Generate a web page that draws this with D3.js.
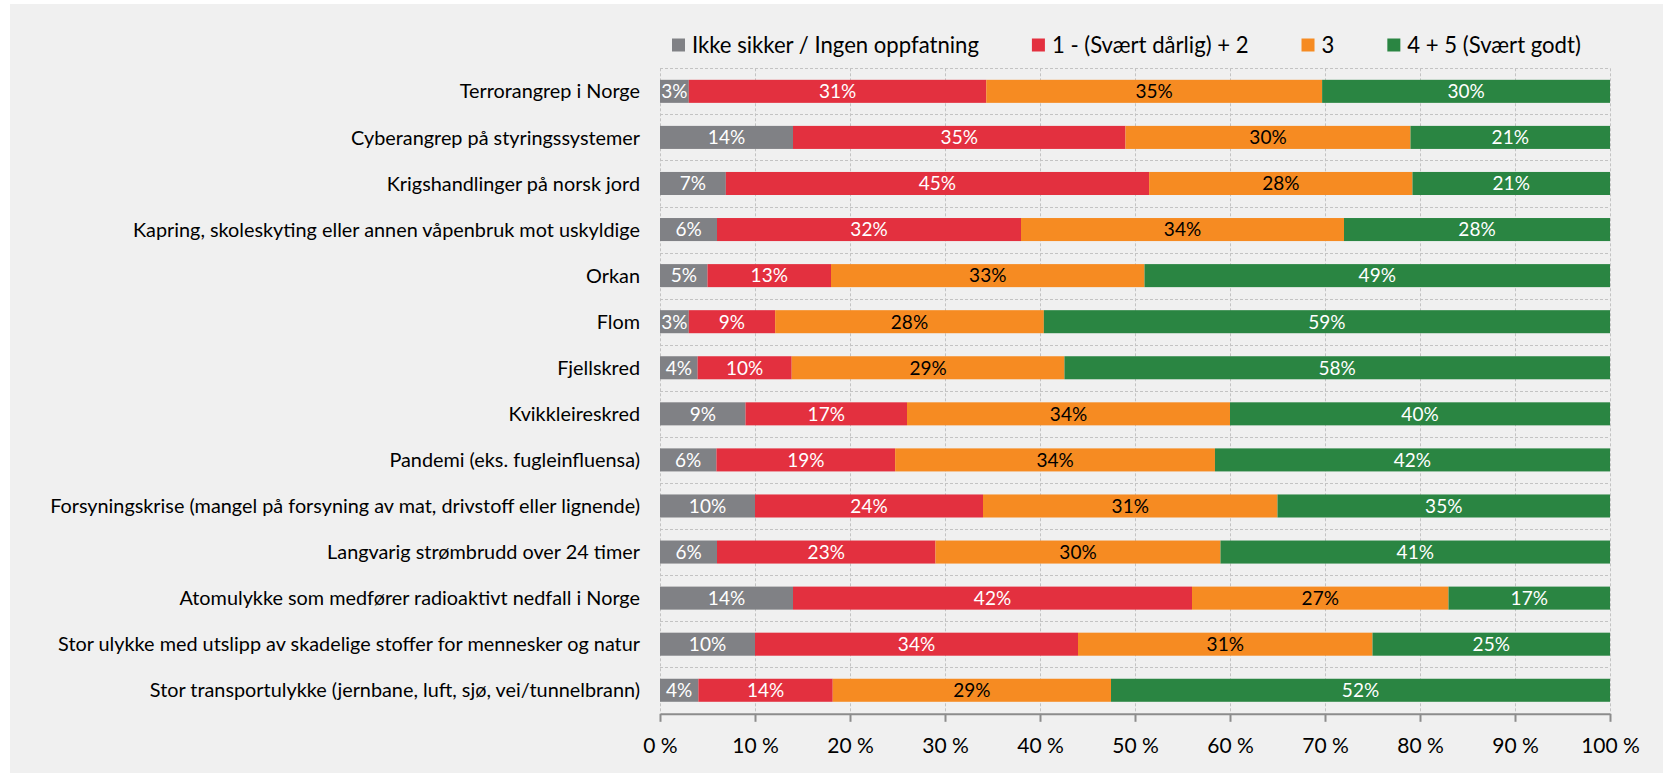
<!DOCTYPE html>
<html>
<head>
<meta charset="utf-8">
<script src="https://cdn.jsdelivr.net/npm/d3@7"></script>
<style>
  html, body { margin: 0; padding: 0; background: #ffffff; }
  svg { display: block; }
  text { font-family: Lato, "Open Sans", sans-serif; }
</style>
</head>
<body>
<svg id="chart" width="1663" height="773"></svg>
<script>
const categories = [
  "Terrorangrep i Norge",
  "Cyberangrep på styringssystemer",
  "Krigshandlinger på norsk jord",
  "Kapring, skoleskyting eller annen våpenbruk mot uskyldige",
  "Orkan",
  "Flom",
  "Fjellskred",
  "Kvikkleireskred",
  "Pandemi (eks. fugleinfluensa)",
  "Forsyningskrise (mangel på forsyning av mat, drivstoff eller lignende)",
  "Langvarig strømbrudd over 24 timer",
  "Atomulykke som medfører radioaktivt nedfall i Norge",
  "Stor ulykke med utslipp av skadelige stoffer for mennesker og natur",
  "Stor transportulykke (jernbane, luft, sjø, vei/tunnelbrann)"
];
const seriesNames = ["Ikke sikker / Ingen oppfatning", "1 - (Svært dårlig) + 2", "3", "4 + 5 (Svært godt)"];
const ikkeSikker = [3, 14, 7, 6, 5, 3, 4, 9, 6, 10, 6, 14, 10, 4];
const svaertDarlig = [31, 35, 45, 32, 13, 9, 10, 17, 19, 24, 23, 42, 34, 14];
const middels = [35, 30, 28, 34, 33, 28, 29, 34, 34, 31, 30, 27, 31, 29];
const svaertGodt = [30, 21, 21, 28, 49, 59, 58, 40, 42, 35, 41, 17, 25, 52];
const tickValues = [0, 10, 20, 30, 40, 50, 60, 70, 80, 90, 100];
const tickLabels = ["0 %", "10 %", "20 %", "30 %", "40 %", "50 %", "60 %", "70 %", "80 %", "90 %", "100 %"];

const colors = ["#808185", "#e3303f", "#f68b22", "#2a8542"];
const labelColors = ["#ffffff", "#ffffff", "#000000", "#ffffff"];

const keys = ["s0", "s1", "s2", "s3"];
const seriesArrays = [ikkeSikker, svaertDarlig, middels, svaertGodt];
const rows = categories.map((c, i) => {
  const r = { cat: c };
  keys.forEach((k, j) => r[k] = seriesArrays[j][i]);
  return r;
});

const svg = d3.select("#chart");
const W = 1663, H = 773;

// background panel
svg.append("rect").attr("x", 10).attr("y", 4).attr("width", W - 10).attr("height", H - 4).attr("fill", "#f0f0f0");

const pLeft = 660, pRight = 1610, pTop = 68.3, pBottom = 713.3;
const x = d3.scaleLinear().domain([0, 100]).range([pLeft, pRight]);
const y = d3.scaleBand().domain(categories).range([pTop, pBottom]).paddingInner(0.5).paddingOuter(0.25);

const stack = d3.stack().keys(keys).offset(d3.stackOffsetExpand);
const stacked = stack(rows);

// fit helper: scale font-size of a selection so that a sample text has the target width
function fit(sel, sample, target) {
  const fs = parseFloat(sample.attr("font-size"));
  const w = sample.node().getComputedTextLength();
  const nfs = fs * target / w;
  sel.attr("font-size", nfs);
  return nfs;
}

// gridlines
const grid = svg.append("g").attr("stroke", "#c3c3c3").attr("stroke-width", 1).attr("stroke-dasharray", "3,2").attr("fill", "none");
tickValues.forEach(v => {
  grid.append("line").attr("x1", Math.round(x(v)) + 0.5).attr("x2", Math.round(x(v)) + 0.5).attr("y1", pTop).attr("y2", pBottom);
});
categories.forEach((c, i) => {
  const yy = Math.round(pTop + i * y.step()) + 0.5;
  grid.append("line").attr("x1", pLeft).attr("x2", pRight).attr("y1", yy).attr("y2", yy);
});

// bars
const fmt = d3.format(".0f");
stacked.forEach((s, si) => {
  const g = svg.append("g");
  g.selectAll("rect").data(s).join("rect")
    .attr("x", d => x(d[0] * 100))
    .attr("width", d => x(d[1] * 100) - x(d[0] * 100))
    .attr("y", d => y(d.data.cat))
    .attr("height", y.bandwidth())
    .attr("fill", colors[si]);
  g.selectAll("text").data(s).join("text")
    .attr("class", "barlabel")
    .attr("x", d => (x(d[0] * 100) + x(d[1] * 100)) / 2)
    .attr("y", d => y(d.data.cat) + y.bandwidth() / 2)
    .attr("dy", "0.36em")
    .attr("text-anchor", "middle")
    .attr("fill", labelColors[si])
    .attr("font-size", 19)
    .text(d => fmt(d.data[s.key]) + "%");
});

// category labels
svg.append("g").selectAll("text").data(categories).join("text")
  .attr("class", "catlabel")
  .attr("x", 640)
  .attr("y", d => y(d) + y.bandwidth() / 2)
  .attr("dy", "0.36em")
  .attr("text-anchor", "end")
  .attr("font-size", 20)
  .attr("fill", "#000")
  .text(d => d);
fit(svg.selectAll(".catlabel"), svg.selectAll(".catlabel").filter(d => d.startsWith("Forsyningskrise")), 590);

// x axis
const axis = d3.axisBottom(x).tickValues(tickValues).tickFormat((d, i) => tickLabels[i]).tickSize(8).tickSizeOuter(0);
const ax = svg.append("g").attr("transform", `translate(0,${pBottom + 0.5})`).call(axis);
ax.select(".domain").attr("stroke", "#8c8c8c").attr("stroke-width", 2);
ax.selectAll(".tick line").attr("stroke", "#8c8c8c").attr("stroke-width", 2);
ax.selectAll(".tick text").attr("class", "ticklabel").attr("y", 32).attr("dy", "0.36em").attr("font-size", 21).attr("fill", "#000").attr("font-family", "Lato, 'Open Sans', sans-serif");

// legend
const legend = svg.append("g");
const legTexts = legend.selectAll("text").data(seriesNames).join("text")
  .attr("y", 45).attr("dy", "0.36em").attr("font-size", 20).attr("fill", "#000").text(d => d);
fit(legTexts, legTexts.filter((d, i) => i === 0), 287);
let lx = 672;
legTexts.each(function (n, i) {
  legend.append("rect").attr("x", lx).attr("y", 38.5).attr("width", 13).attr("height", 13).attr("fill", colors[i]);
  d3.select(this).attr("x", lx + 20);
  lx += 20 + this.getComputedTextLength() + 53;
});
</script>
</body>
</html>
